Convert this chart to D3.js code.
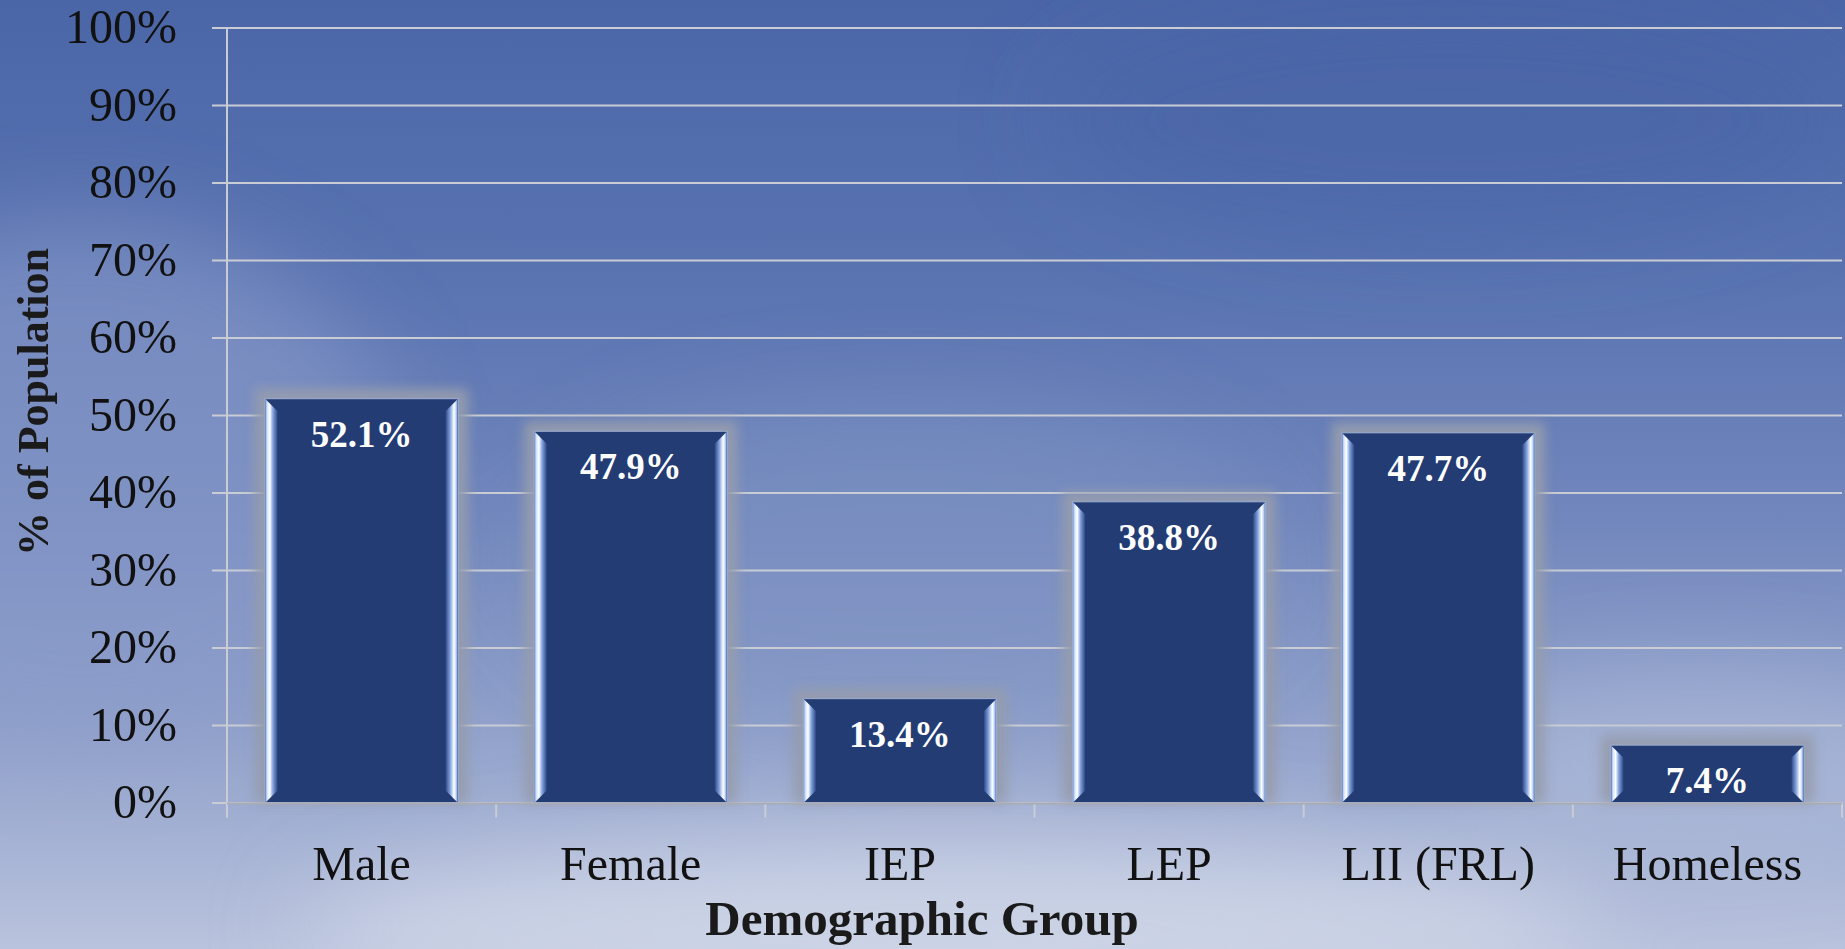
<!DOCTYPE html>
<html>
<head>
<meta charset="utf-8">
<script src="https://cdn.jsdelivr.net/npm/d3@7"></script>
<style>
  html, body { margin: 0; padding: 0; overflow: hidden; }
  svg { display: block; font-family: 'Liberation Serif', 'DejaVu Serif', serif; }
</style>
</head>
<body>
<svg></svg>
<script>
const width = 1845;
const height = 949;

const categories = ['Male', 'Female', 'IEP', 'LEP', 'LII (FRL)', 'Homeless'];
const values = [0.521, 0.479, 0.134, 0.388, 0.477, 0.074];
const yTicks = [0, 0.1, 0.2, 0.3, 0.4, 0.5, 0.6, 0.7, 0.8, 0.9, 1.0];
const xTitle = 'Demographic Group';
const yTitle = '% of Population';

const renderChart = () => {
    const svg = d3.select('svg')
        .attr('width', width)
        .attr('height', height);

    const defs = svg.append('defs');

    // sky background
    const sky = defs.append('linearGradient')
        .attr('id', 'sky').attr('x1', 0).attr('y1', 0).attr('x2', 0).attr('y2', 1);
    [[0, '#4b66a7'], [0.3, '#5a74b2'], [0.55, '#7287bd'], [0.78, '#93a3cc'], [1, '#b9c3dd']]
        .forEach(s => sky.append('stop').attr('offset', s[0]).attr('stop-color', s[1]));

    defs.append('filter').attr('id', 'cloud')
        .attr('x', '-50%').attr('y', '-50%').attr('width', '200%').attr('height', '200%')
        .append('feGaussianBlur').attr('stdDeviation', 45);

    const halo = defs.append('filter').attr('id', 'halo')
        .attr('x', '-30%').attr('y', '-30%').attr('width', '160%').attr('height', '160%');
    halo.append('feGaussianBlur').attr('stdDeviation', 6);

    const bevelL = defs.append('linearGradient').attr('id', 'bevelL');
    [[0, '#86a6e2'], [0.15, '#d6e6ff'], [0.35, '#ffffff'], [0.6, '#86a6e0'], [1, '#2d4886']]
        .forEach(s => bevelL.append('stop').attr('offset', s[0]).attr('stop-color', s[1]));
    const bevelR = defs.append('linearGradient').attr('id', 'bevelR');
    [[0, '#2d4886'], [0.4, '#86a6e0'], [0.7, '#ffffff'], [0.85, '#c8dcfb'], [1, '#6d90d0']]
        .forEach(s => bevelR.append('stop').attr('offset', s[0]).attr('stop-color', s[1]));

    svg.append('rect').attr('width', width).attr('height', height).attr('fill', 'url(#sky)');

    const clouds = svg.append('g').attr('filter', 'url(#cloud)');
    clouds.append('ellipse').attr('cx', 80).attr('cy', 480).attr('rx', 320).attr('ry', 260)
        .attr('fill', '#8c9dca').attr('opacity', 0.55);
    clouds.append('ellipse').attr('cx', 900).attr('cy', 560).attr('rx', 380).attr('ry', 160)
        .attr('fill', '#7f93c4').attr('opacity', 0.5);
    clouds.append('ellipse').attr('cx', 950).attr('cy', 930).attr('rx', 650).attr('ry', 90)
        .attr('fill', '#d2d8e8').attr('opacity', 0.75);
    clouds.append('ellipse').attr('cx', 1700).attr('cy', 760).attr('rx', 260).attr('ry', 90)
        .attr('fill', '#b4bfdb').attr('opacity', 0.5);
    clouds.append('ellipse').attr('cx', 1450).attr('cy', 120).attr('rx', 400).attr('ry', 120)
        .attr('fill', '#4864a6').attr('opacity', 0.5);

    const x = d3.scaleBand()
        .domain(categories)
        .range([227, 1842])
        .paddingInner(0.283)
        .paddingOuter(0.1415);

    const y = d3.scaleLinear()
        .domain([0, 1])
        .range([802.5, 27.5]);

    // gridlines
    svg.append('g')
        .attr('class', 'grid')
        .attr('transform', 'translate(227,0)')
        .call(d3.axisLeft(y).tickValues(yTicks).tickSize(-(1842 - 227)).tickFormat(''))
        .call(g => g.select('.domain').remove())
        .selectAll('line')
        .attr('stroke', '#c9ccd4')
        .attr('stroke-width', 2);

    // y axis
    const yAxis = svg.append('g')
        .attr('transform', 'translate(227,0)')
        .call(d3.axisLeft(y).tickValues(yTicks).tickSize(15).tickPadding(35)
            .tickFormat(d3.format('.0%')));
    yAxis.select('.domain').remove();
    yAxis.selectAll('line').attr('stroke', '#c9ccd4').attr('stroke-width', 2);
    yAxis.selectAll('text')
        .attr('font-size', 48)
        .attr('font-family', "'Liberation Serif', serif")
        .attr('fill', '#111');
    yAxis.append('line')
        .attr('x1', 0).attr('x2', 0)
        .attr('y1', y(1)).attr('y2', y(0) + 15)
        .attr('stroke', '#c9ccd4').attr('stroke-width', 2);

    // x axis boundary ticks
    const step = x.step();
    const bounds = categories.map(c => x(c) - step * x.paddingInner() / 2)
        .concat([x(categories[categories.length - 1]) + x.bandwidth() + step * x.paddingInner() / 2]);
    svg.append('g').selectAll('line')
        .data(bounds)
        .enter().append('line')
        .attr('x1', d => d).attr('x2', d => d)
        .attr('y1', y(0)).attr('y2', y(0) + 15)
        .attr('stroke', '#c9ccd4').attr('stroke-width', 2);

    // bars
    const bar = svg.append('g').selectAll('.bar')
        .data(values)
        .enter().append('g')
        .attr('class', 'bar');

    const bw = x.bandwidth();
    const b = 12;

    bar.append('rect')
        .attr('x', (d, i) => x(categories[i]) - 10)
        .attr('y', d => y(d) - 10)
        .attr('width', bw + 20)
        .attr('height', d => y(0) - y(d) + 10)
        .attr('fill', '#959cae')
        .attr('opacity', 0.95)
        .attr('filter', 'url(#halo)');

    bar.append('rect')
        .attr('x', (d, i) => x(categories[i]))
        .attr('y', d => y(d))
        .attr('width', bw)
        .attr('height', d => y(0) - y(d))
        .attr('fill', '#233c74')
        .attr('stroke', '#9fb0d2')
        .attr('stroke-width', 1);

    bar.append('polygon')
        .attr('fill', 'url(#bevelL)')
        .attr('points', (d, i) => {
            const x0 = x(categories[i]) + 0.5, t = y(d) + 0.5, bt = y(0);
            return [[x0, t], [x0 + b, t + b], [x0 + b, bt - b], [x0, bt]].join(' ');
        });

    bar.append('polygon')
        .attr('fill', 'url(#bevelR)')
        .attr('points', (d, i) => {
            const x1 = x(categories[i]) + bw - 0.5, t = y(d) + 0.5, bt = y(0);
            return [[x1, t], [x1 - b, t + b], [x1 - b, bt - b], [x1, bt]].join(' ');
        });

    bar.append('text')
        .attr('x', (d, i) => x(categories[i]) + bw / 2)
        .attr('y', d => y(d) + 48)
        .attr('text-anchor', 'middle')
        .attr('font-size', 37)
        .attr('font-weight', 'bold')
        .attr('fill', '#ffffff')
        .text(d => d3.format('.1%')(d));

    // bottom baseline
    svg.append('line')
        .attr('x1', 227).attr('x2', 1842)
        .attr('y1', y(0) + 1).attr('y2', y(0) + 1)
        .attr('stroke', '#a9acb4').attr('stroke-width', 2);

    // x axis labels
    const xAxis = svg.append('g')
        .attr('transform', `translate(0,${y(0)})`)
        .call(d3.axisBottom(x).tickSize(0));
    xAxis.select('.domain').remove();
    xAxis.selectAll('text')
        .attr('y', 77)
        .attr('dy', 0)
        .attr('font-size', 48)
        .attr('font-family', "'Liberation Serif', serif")
        .attr('fill', '#111');

    // titles
    svg.append('text')
        .attr('x', 922)
        .attr('y', 935)
        .attr('text-anchor', 'middle')
        .attr('font-size', 49)
        .attr('font-weight', 'bold')
        .attr('fill', '#1a1a1a')
        .text(xTitle);

    svg.append('text')
        .attr('transform', 'translate(48,402) rotate(-90)')
        .attr('text-anchor', 'middle')
        .attr('font-size', 44)
        .attr('font-weight', 'bold')
        .attr('fill', '#1a1a1a')
        .text(yTitle);
};

document.addEventListener('DOMContentLoaded', () => {
    renderChart();
});
</script>
</body>
</html>
